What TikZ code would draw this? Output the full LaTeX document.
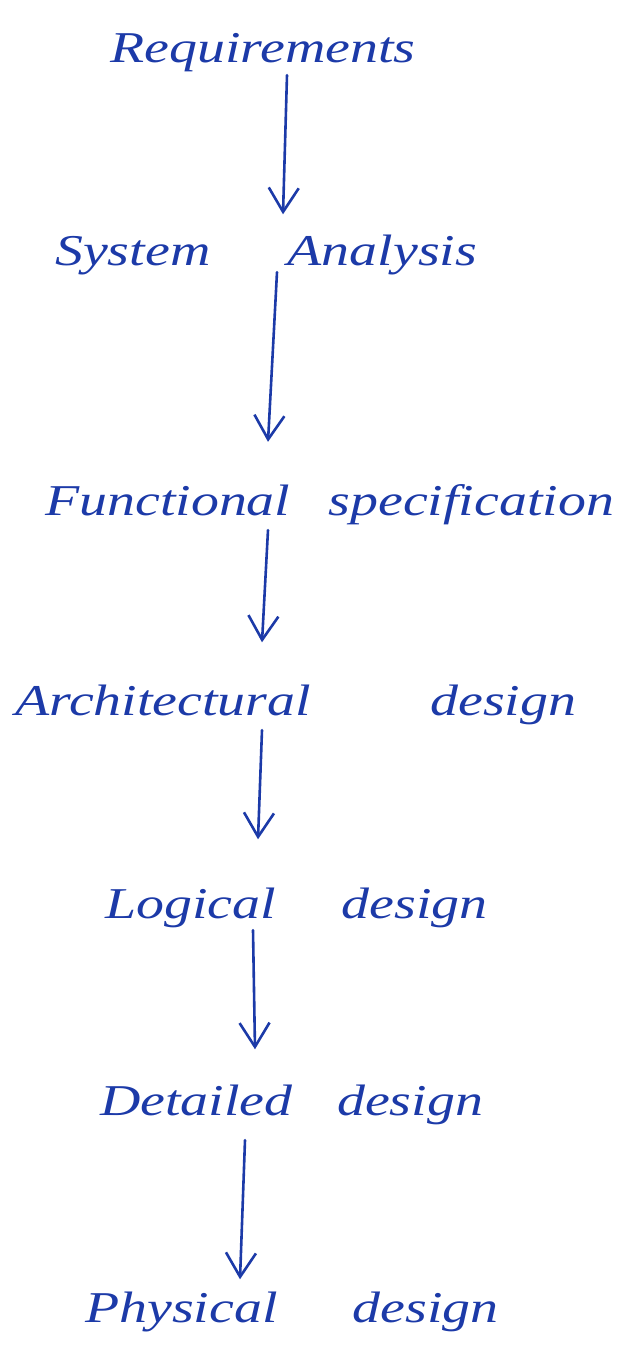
\documentclass[tikz,border=0pt]{standalone}
\usepackage{fontspec}
\setmainfont{Liberation Serif}
\usetikzlibrary{arrows.meta,calc}
\definecolor{ink}{RGB}{28,58,168}
\newcommand{\wide}[1]{\scalebox{1.27}[1]{#1}}
\begin{document}
\begin{tikzpicture}[x=1pt,y=-1pt,
  lbl/.style={anchor=base west,inner sep=0pt,text=ink,font=\fontsize{44}{50}\selectfont\itshape},
  arr/.style={draw=ink,line width=2.6pt,line cap=round,-{Straight Barb[length=24pt,width=30pt,line width=2.6pt]}}]
\useasboundingbox (0,0) rectangle (618,1352);
\node[lbl] (req) at (110,62) {\wide{Requirements}};
\node[lbl] (sys) at (55,265) {\wide{System\hspace{61pt}Analysis}};
\node[lbl] (fun) at (45,515) {\wide{Functional\hspace{30pt}specification}};
\node[lbl] (arc) at (15,715) {\wide{Architectural\hspace{94pt}design}};
\node[lbl] (log) at (105,918) {\wide{Logical\hspace{52pt}design}};
\node[lbl] (det) at (100,1115) {\wide{Detailed\hspace{35pt}design}};
\node[lbl] (phy) at (85,1322) {\wide{Physical\hspace{59pt}design}};
\draw[arr] ($(req.south -| 287,0)+(0,3.5)$) -- ($(sys.north -| 283,0)+(0,-20)$);
\draw[arr] ($(sys.south -| 277,0)+(0,-2.5)$) -- ($(fun.north -| 268,0)+(0,-42)$);
\draw[arr] ($(fun.south -| 268,0)+(0,5.5)$) -- ($(arc.north -| 262,0)+(0,-42)$);
\draw[arr] ($(arc.south -| 262,0)+(0,5.5)$) -- ($(log.north -| 258,0)+(0,-48)$);
\draw[arr] ($(log.south -| 253,0)+(0,2.5)$) -- ($(det.north -| 255,0)+(0,-35)$);
\draw[arr] ($(det.south -| 245,0)+(0,15.5)$) -- ($(phy.north -| 240,0)+(0,-12)$);
\end{tikzpicture}
\end{document}
